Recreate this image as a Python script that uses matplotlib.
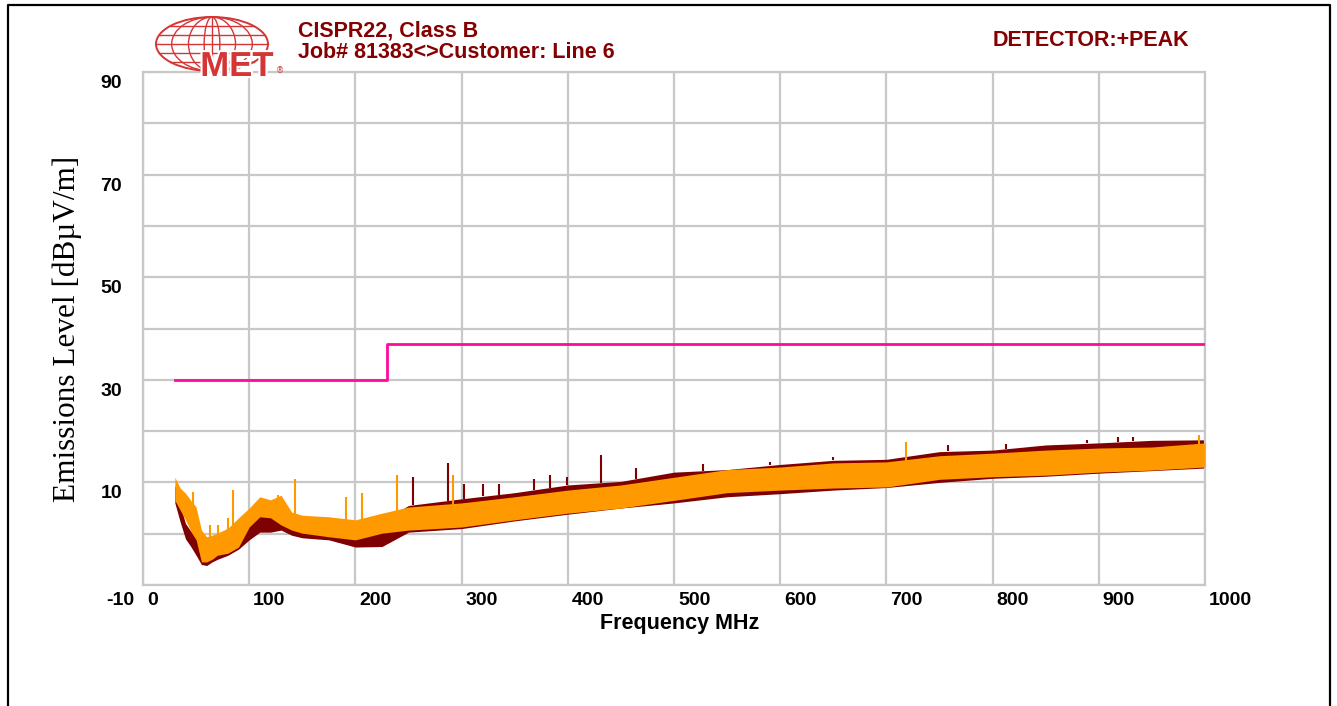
import matplotlib
matplotlib.use('Agg')
import matplotlib.pyplot as plt
import matplotlib.patheffects as pe
from matplotlib.patches import Ellipse
import numpy as np

W, H = 1337, 706

# envelope of the two sweeps (MHz, dBuV/m)
freq = [30, 35, 40, 45, 50, 55, 60, 65, 70, 80, 90, 100, 110, 120, 130, 140, 150,
        175, 200, 225, 250, 300, 350, 400, 450, 500, 550, 600, 650, 700, 750,
        800, 850, 900, 950, 1000]
orange_hi = [11.0, 8.9, 7.9, 6.5, 5.2, 0.7, -0.6, -0.3, 0.1, 1.1, 3.1, 5.0, 7.2, 6.6,
             7.5, 4.2, 3.6, 3.3, 2.7, 4.0, 5.2, 6.0, 7.2, 8.5, 9.5, 11.0, 12.5, 13.0,
             13.8, 14.0, 15.2, 15.7, 16.3, 16.7, 16.9, 17.7]
orange_lo = [6.5, 4.6, 2.7, 0.5, -1.2, -5.5, -5.5, -5.0, -4.2, -3.8, -2.6, 1.3, 3.3,
             3.1, 1.7, 0.7, 0.1, -0.6, -1.2, 0.1, 0.7, 1.3, 2.7, 4.0, 5.0, 6.5, 8.0,
             8.5, 8.9, 9.1, 10.6, 11.1, 11.4, 12.0, 12.4, 13.0]
red_hi = [9.5, 5.5, 2.0, 0.5, -1.0, -3.0, -3.5, -3.0, -2.5, -1.5, 0.0, 3.0, 4.0, 4.0,
          3.5, 3.0, 2.5, 2.0, 1.5, 2.5, 5.5, 6.8, 8.0, 9.5, 10.2, 12.0, 12.5, 13.5,
          14.3, 14.5, 16.0, 16.3, 17.3, 17.7, 18.2, 18.3]
red_lo = [6.0, 2.3, -1.0, -2.5, -4.2, -6.0, -6.2, -5.5, -5.0, -4.2, -3.0, -1.2, 0.3,
          0.3, 0.7, -0.3, -0.8, -1.2, -2.6, -2.5, 0.3, 1.0, 2.5, 3.8, 5.0, 6.0, 7.2,
          7.8, 8.5, 9.0, 10.0, 10.8, 11.2, 11.8, 12.3, 12.8]

orange_spike_f = [47, 63, 71, 80, 85, 127, 143, 191, 206, 239, 292, 718, 994]
orange_spike_v = [8.1, 1.7, 1.7, 3.1, 8.5, 7.5, 10.7, 7.2, 7.9, 11.4, 11.4, 17.9, 19.2]
red_spike_f = [254, 287, 302, 320, 335, 368, 383, 399, 431, 464, 527, 590, 650,
               758, 813, 889, 918, 932]
red_spike_v = [11.0, 13.8, 9.7, 9.7, 9.7, 10.7, 11.4, 11.0, 15.3, 12.8, 13.6, 14.0,
               15.0, 17.3, 17.5, 18.3, 18.8, 18.8]

# CISPR22 class B limit
limit_f = [30, 230, 230, 1000]
limit_v = [30, 30, 37, 37]

x_labels = [0, 100, 200, 300, 400, 500, 600, 700, 800, 900, 1000]
y_labels = [90, 70, 50, 30, 10, -10]

ORANGE = '#ff9900'
DARK = '#7f0000'
PINK = '#ff0a9c'
TXT = '#850000'
GRID = '#c8c8c8'

fig = plt.figure(figsize=(W / 100, H / 100), dpi=100, facecolor='white')

ax = fig.add_axes([143 / W, (H - 585) / H, (1205 - 143) / W, (585 - 72) / H])
ax.set_xlim(0, 1000)
ax.set_ylim(-10, 90)
ax.set_xticks(np.arange(0, 1001, 100))
ax.set_yticks(np.arange(-10, 91, 10))
ax.grid(True, color=GRID, lw=1.6)
ax.set_axisbelow(True)
ax.tick_params(length=0, labelbottom=False, labelleft=False)
for s in ax.spines.values():
    s.set_color(GRID)
    s.set_linewidth(1.6)

ax.fill_between(freq, red_lo, red_hi, color=DARK, lw=0, zorder=2)
base_r = np.interp(red_spike_f, freq, red_hi)
ax.vlines(red_spike_f, base_r, red_spike_v, color=DARK, lw=1.5, zorder=2)
ax.fill_between(freq, orange_lo, orange_hi, color=ORANGE, lw=0, zorder=3)
base_o = np.interp(orange_spike_f, freq, orange_hi)
ax.vlines(orange_spike_f, base_o - 1, orange_spike_v, color=ORANGE, lw=1.5, zorder=3)
ax.plot(limit_f, limit_v, color=PINK, lw=2.0, zorder=4)

for v in x_labels:
    ax.annotate(str(v), xy=(v, -10), xytext=(4, -7), textcoords='offset pixels',
                ha='left', va='top', fontsize=14, fontweight='bold',
                family='Liberation Sans', annotation_clip=False)
for v in y_labels:
    off = (-9, -7) if v == -10 else (-21, -3)
    ax.annotate(str(v), xy=(0, v), xytext=off, textcoords='offset pixels',
                ha='right', va='top', fontsize=14, fontweight='bold',
                family='Liberation Sans', annotation_clip=False)

# page overlay on top: frame and logo, in pixel coordinates
bg = fig.add_axes([0, 0, 1, 1])
bg.patch.set_alpha(0)
bg.set_xlim(0, W)
bg.set_ylim(H, 0)
bg.set_axis_off()
bg.plot([8, 8, 1330, 1330], [H + 5, 5, 5, H + 5], color='black', lw=1.6)

red = '#d43535'
cx, cy, gw, gh = 212, 44, 112, 54
bg.add_patch(Ellipse((cx, cy), gw, gh, fill=False, ec=red, lw=1.4))
for k in [0.72, 0.42, 0.14]:
    bg.add_patch(Ellipse((cx, cy), gw * k, gh, fill=False, ec=red, lw=1.0))
bg.plot([cx, cx], [cy - gh / 2, cy + gh / 2], color=red, lw=1.0)
for dy in [-18, -9, 0, 9, 18]:
    hw = gw / 2 * np.sqrt(1 - (2 * dy / gh) ** 2)
    bg.plot([cx - hw, cx + hw], [cy + dy, cy + dy], color=red, lw=1.0)
bg.text(237, 76, 'MET', color=red, fontsize=25, fontweight='bold',
        family='Liberation Sans', ha='center', va='baseline',
        path_effects=[pe.withStroke(linewidth=3, foreground='white')])
bg.text(280, 71, '®', color=red, fontsize=6, ha='center', va='center')

# headings
fig.text(298 / W, 1 - 31 / H, 'CISPR22, Class B', color=TXT, fontsize=15.5,
         fontweight='bold', family='Liberation Sans', ha='left', va='center')
fig.text(298 / W, 1 - 53 / H, 'Job# 81383<>Customer: Line 6', color=TXT,
         fontsize=15.5, fontweight='bold', family='Liberation Sans',
         ha='left', va='center')
fig.text(993 / W, 1 - 40 / H, 'DETECTOR:+PEAK', color=TXT, fontsize=15.5,
         fontweight='bold', family='Liberation Sans', ha='left', va='center')

fig.text(680 / W, 1 - 623 / H, 'Frequency MHz', fontsize=15.5, fontweight='bold',
         family='Liberation Sans', ha='center', va='center')
fig.text(67 / W, 1 - 329 / H, 'Emissions Level [dBµV/m]', fontsize=22.5,
         family='Liberation Serif', rotation=90, ha='center', va='center')

fig.savefig('out.png', dpi=100, facecolor='white')
